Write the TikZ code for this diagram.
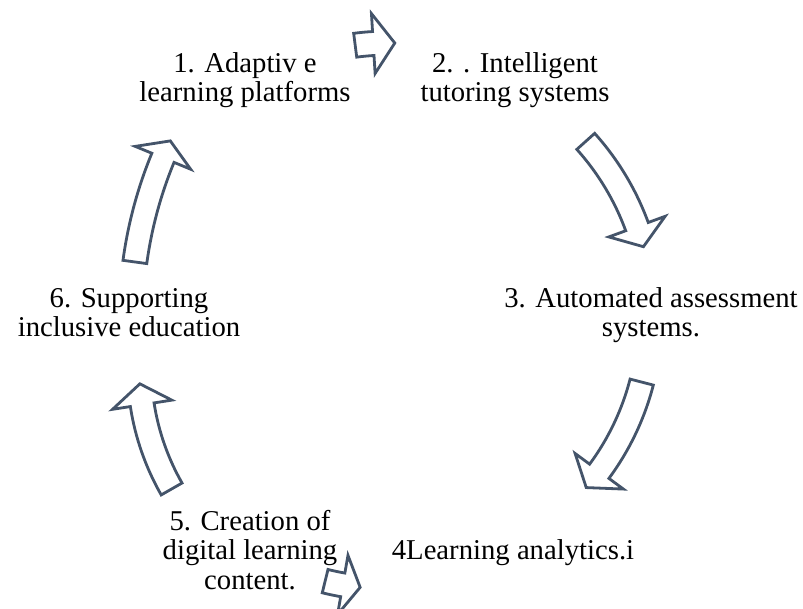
\documentclass[tikz,border=0pt]{standalone}
\usepackage{fontspec}
\setmainfont{Liberation Serif}
\usepackage{xcolor}
\usepackage{tikz}
\usetikzlibrary{calc}
\definecolor{arrowgray}{HTML}{44546A}
% curved block arrow: centre, radius, tail angle, head base angle, tip angle
\newcommand{\blockarc}[5]{%
	\draw[arcarrow] ($(#1)+(#3:{#2+12})$) arc[start angle=#3, end angle=#4, radius=#2+12]
	-- ($(#1)+(#4:{#2+30})$) -- ($(#1)+(#5:{#2})$) -- ($(#1)+(#4:{#2-30})$)
	-- ($(#1)+(#4:{#2-12})$) arc[start angle=#4, end angle=#3, radius=#2-12] -- cycle;}

\begin{document}
\begin{tikzpicture}[
			x=1pt, y=1pt,
			cycletext/.style={align=center, anchor=base, inner sep=0pt, font=\fontsize{28.7}{29.5}\selectfont},
			arcarrow/.style={draw=arrowgray, fill=white, line width=2.8pt, line join=miter}
			]
			\useasboundingbox (0,0) rectangle (803,608);
			\clip (0,0) rectangle (803,608);
			
			% Arc centres
			\coordinate (hub) at (390,291);
			\coordinate (hubleft) at (385.3,240.9);
			\coordinate (hubtop) at (554,289);
			
			% Arrows
			\blockarc{hub}{274}{97.3}{93.5}{89}
			\blockarc{hub}{263}{41.9}{20.1}{15.5}
			\blockarc{hub}{260}{-14.5}{-36.4}{-41}
			\blockarc{hub}{272}{-103.8}{-100}{-96.3}
			\blockarc{hubleft}{246}{209.7}{188.8}{183.9}
			\blockarc{hubtop}{423}{172.25}{157.6}{155.1}
			
			% Steps (base = last line)
			\node[cycletext] (adaptive) at (245,506) {1. Adaptiv e\\learning platforms};
			\node[cycletext] (tutoring) at (515,506) {2. . Intelligent\\tutoring systems};
			\node[cycletext] (assessment) at (651,271) {3. Automated assessment\\systems.};
			\node[cycletext] (analytics) at (513,49) {4Learning analytics.i};
			\node[cycletext] (content) at (250,19) {5. Creation of\\digital learning\\content.};
			\node[cycletext] (inclusive) at (129,271) {6. Supporting\\inclusive education};
			
\end{tikzpicture}
\end{document}
